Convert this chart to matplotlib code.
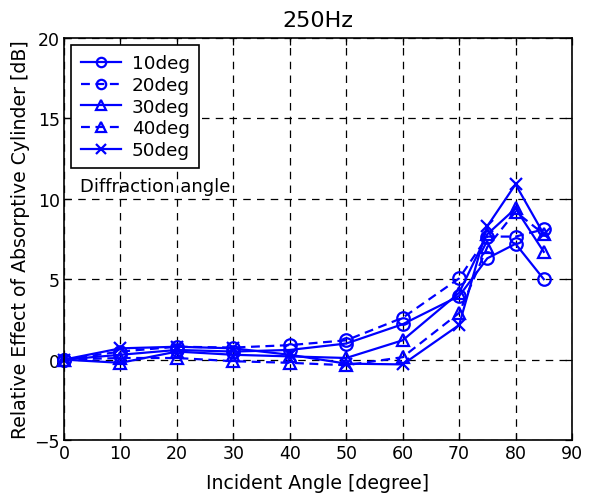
import matplotlib
matplotlib.use("Agg")
import matplotlib.pyplot as plt

plt.rcParams['font.family'] = ['DejaVu Sans']
plt.rcParams['axes.unicode_minus'] = True

angles = [0, 10, 20, 30, 40, 50, 60, 70, 75, 80, 85]
labels = ["10deg", "20deg", "30deg", "40deg", "50deg"]
deg10 = [0, 0.3, 0.6, 0.5, 0.6, 1.0, 2.2, 3.95, 6.3, 7.2, 5.0]
deg20 = [0, 0.5, 0.8, 0.75, 0.9, 1.2, 2.6, 5.05, 7.65, 7.65, 8.1]
deg30 = [0, -0.2, 0.5, 0.3, 0.2, 0.1, 1.2, 4.15, 7.8, 9.4, 6.7]
deg40 = [0, 0.1, 0.1, -0.1, -0.2, -0.35, 0.15, 2.9, 7.0, 9.2, 7.8]
deg50 = [0, 0.7, 0.8, 0.7, 0.3, -0.25, -0.3, 2.15, 8.3, 10.9, 7.8]
series = [deg10, deg20, deg30, deg40, deg50]
markers = ['o', 'o', '^', '^', 'x']
styles = ['-', '--', '-', '--', '-']

xticks = list(range(0, 91, 10))
yticks = [-5, 0, 5, 10, 15, 20]

fig = plt.figure(figsize=(5.89, 5.02), dpi=100)
ax = fig.add_axes([64/589, 1-441/502, (572-64)/589, (441-39)/502])

for vals, lab, m, ls in zip(series, labels, markers, styles):
    ax.plot(angles, vals, color='#0000ff', linestyle=ls, marker=m, markersize=9,
            markerfacecolor='none', markeredgewidth=1.6, linewidth=1.6, label=lab,
            dashes=(4, 2.5) if ls == '--' else (None, None), clip_on=False)

ax.set_xlim(0, 90)
ax.set_ylim(-5, 20)
ax.set_xticks(xticks)
ax.set_yticks(yticks)
ax.grid(True, color='black', linestyle=(0, (6, 5)), linewidth=0.9)
ax.tick_params(direction='in', top=True, right=True, labelsize=12.5, length=5, width=0.9, pad=3)
for s in ax.spines.values():
    s.set_linewidth(1.2)

ax.set_xlabel("Incident Angle [degree]", fontsize=13.6, labelpad=8)
ax.set_ylabel("Relative Effect of Absorptive Cylinder [dB]", fontsize=13.6, labelpad=3)
ax.set_title("250Hz", fontsize=16, pad=8.5)

ax.text(2.8, 10.8, "Diffraction angle", fontsize=13, va='center', ha='left')

leg = ax.legend(loc='upper left', fontsize=13.2, fancybox=False, framealpha=1,
                edgecolor='black', handlelength=2.2, borderaxespad=0.4,
                labelspacing=0.2, borderpad=0.5, handletextpad=0.6, markerscale=0.75)
leg.get_frame().set_linewidth(1.2)

fig.savefig("out.png", dpi=100)
